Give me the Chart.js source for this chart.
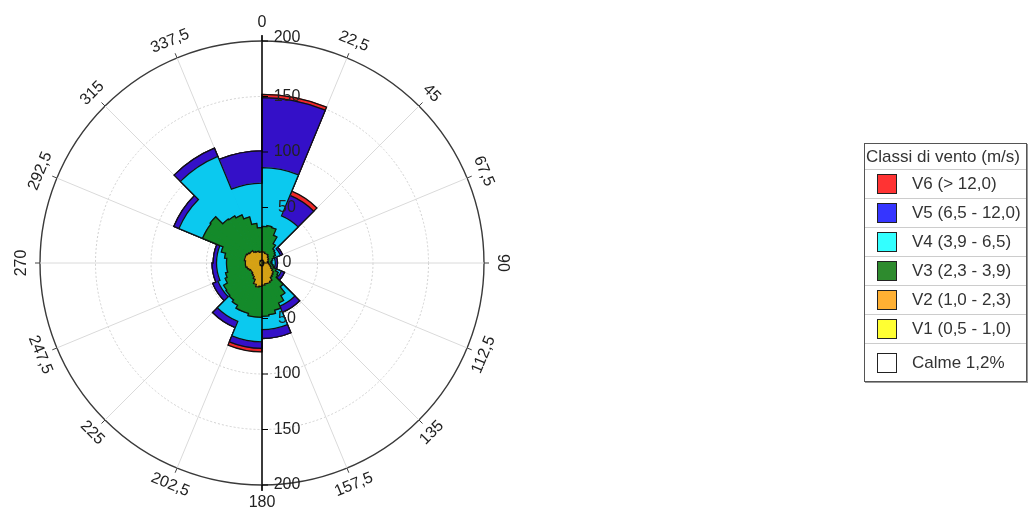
<!DOCTYPE html>
<html lang="it">
<head>
<meta charset="utf-8">
<title>Rosa dei venti</title>
<script src="https://cdn.jsdelivr.net/npm/chart.js@4.4.1/dist/chart.umd.min.js"></script>
<style>
  body { margin: 0; background: #fff; font-family: "Liberation Sans", Arial, sans-serif; }
  #wrap { position: absolute; left: 0; top: 0; width: 1030px; height: 511px; }
  #legend {
    position: absolute; left: 864px; top: 143px; width: 163px;
    box-sizing: border-box; border: 1px solid #555; box-shadow: 1px 1px 0 #999;
    background: #fff; font-size: 17px; color: #333;
  }
  #legend .title { height: 25px; line-height: 25px; padding-left: 1px; border-bottom: 1px solid #ccc; white-space: nowrap; }
  #legend .row { position: relative; height: 28px; border-bottom: 1px solid #ccc; }
  #legend .row:last-child { height: 37px; border-bottom: none; }
  #legend .sw { position: absolute; left: 12px; top: 50%; width: 18px; height: 18px; margin-top: -10px; border: 1px solid #222; }
  #legend .txt { position: absolute; left: 47px; top: 50%; transform: translateY(-50%); white-space: nowrap; }
</style>
</head>
<body>
<div id="wrap"><canvas id="rose"></canvas></div>
<div id="legend"></div>
<script>
// direzioni (gradi) - 16 settori
const directionLabels = ['0', '22,5', '45', '67,5', '90', '112,5', '135', '157,5',
  '180', '202,5', '225', '247,5', '270', '292,5', '315', '337,5'];
const radialTicks = [0, 50, 100, 150, 200];

// frequenze cumulate (bordo esterno di ogni classe)
const v6Edge = [152, 70, 20, 14, 14, 22, 48, 68, 80, 63, 48, 45, 44, 86, 112, 101];
const v5Edge = [149, 66, 20, 14, 14, 22, 48, 68, 77, 63, 48, 45, 44, 86, 112, 101];
const v4Edge = [86, 46, 18, 12, 12, 19, 42, 60, 71, 57, 43, 41, 41, 81, 104, 72];
// le classi basse sono disegnate a passo 7,5 gradi
const v3Edge = [33, 34, 33, 27, 20, 16, 15, 14, 12, 10, 9, 8, 9, 10, 11, 14,
  17, 18, 27, 34, 39, 44, 47, 48, 49, 49, 47, 47, 44, 42, 41, 40,
  36, 34, 32, 32, 32, 34, 38, 58, 58, 59, 50, 49, 47, 43, 36, 32];
const v2Edge = [10, 10, 9, 9, 9, 8, 7, 7, 6, 6, 5, 6, 6, 7, 8, 9,
  11, 13, 14, 15, 18, 19, 19, 20, 21, 22, 20, 16, 14, 13, 12, 12,
  13, 14, 15, 15, 15, 16, 16, 16, 15, 14, 14, 12, 11, 11, 10, 10];
const v1Edge = [2.5, 2, 2, 1.5, 1.5, 1.5, 2, 2.5, 2.5, 2.5, 2, 2, 2, 2, 2.5, 2.5];

const legendLabels = ['V6 (> 12,0)', 'V5 (6,5 - 12,0)', 'V4 (3,9 - 6,5)', 'V3 (2,3 - 3,9)',
  'V2 (1,0 - 2,3)', 'V1 (0,5 - 1,0)', 'Calme 1,2%'];
const legendColors = ['#ff3333', '#3535ff', '#33ffff', '#2e8b2e', '#ffb033', '#ffff33', '#ffffff'];
const fillColors = ['#f02828', '#3410c8', '#0bc9ef', '#148a2a', '#d6a215', '#ffff33'];

const FONT = '16px "Liberation Sans", Arial, sans-serif';

// legenda html
const legendEl = document.getElementById('legend');
legendEl.innerHTML = '<div class="title">Classi di vento (m/s)</div>' +
  legendLabels.map((l, i) =>
    `<div class="row"><span class="sw" style="background:${legendColors[i]}"></span><span class="txt">${l}</span></div>`
  ).join('');

// contorno nero di ogni classe (solo il bordo esterno, non tra i settori)
const roseOutline = {
  id: 'roseOutline',
  afterDatasetDraw(chart, args) {
    const ctx = chart.ctx;
    const arcs = args.meta.data;
    if (!arcs.length) return;
    ctx.save();
    ctx.beginPath();
    arcs.forEach((arc, i) => {
      const p = arc.getProps(['x', 'y', 'startAngle', 'endAngle', 'outerRadius'], true);
      if (i === 0) ctx.moveTo(p.x + p.outerRadius * Math.cos(p.startAngle), p.y + p.outerRadius * Math.sin(p.startAngle));
      ctx.arc(p.x, p.y, p.outerRadius, p.startAngle, p.endAngle);
    });
    ctx.closePath();
    ctx.lineWidth = 1.3;
    ctx.strokeStyle = '#111';
    ctx.stroke();
    ctx.restore();
  }
};

// asse verticale, tacche, etichette ruotate
const roseAxes = {
  id: 'roseAxes',
  afterDatasetsDraw(chart) {
    const s = chart.scales.r;
    const ctx = chart.ctx;
    const cx = s.xCenter, cy = s.yCenter, R = s.drawingArea;
    ctx.save();

    ctx.strokeStyle = '#444';
    ctx.lineWidth = 1;
    directionLabels.forEach((lab, i) => {
      const a = s.getIndexAngle(i) - Math.PI / 2;
      ctx.beginPath();
      ctx.moveTo(cx + R * Math.cos(a), cy + R * Math.sin(a));
      ctx.lineTo(cx + (R + 5) * Math.cos(a), cy + (R + 5) * Math.sin(a));
      ctx.stroke();
    });

    ctx.strokeStyle = '#000';
    ctx.lineWidth = 1.5;
    ctx.beginPath();
    ctx.moveTo(cx, cy - R - 6);
    ctx.lineTo(cx, cy + R + 6);
    ctx.stroke();

    ctx.font = FONT;
    ctx.fillStyle = '#222';
    ctx.textAlign = 'center';
    ctx.textBaseline = 'middle';
    ctx.lineWidth = 1;
    radialTicks.forEach(v => {
      const d = s.getDistanceFromCenterForValue(v);
      [-1, 1].forEach(sign => {
        if (v === 0 && sign === 1) return;
        const y = cy + sign * d;
        ctx.beginPath();
        ctx.moveTo(cx, y);
        ctx.lineTo(cx + 6, y);
        ctx.stroke();
        ctx.fillText(String(v), cx + 25, y - (v === 200 && sign < 0 ? 3 : 0));
      });
    });

    directionLabels.forEach((lab, i) => {
      const rot = s.getIndexAngle(i);
      const deg = rot * 180 / Math.PI;
      const flip = deg > 90.5 && deg < 269.5;
      ctx.save();
      ctx.translate(cx, cy);
      ctx.rotate(rot);
      ctx.translate(0, -(R + 18));
      if (flip) ctx.rotate(Math.PI);
      ctx.fillText(lab, 0, 0);
      ctx.restore();
    });
    ctx.restore();
  }
};

const classEdges = [v1Edge, v2Edge, v3Edge, v4Edge, v5Edge, v6Edge];
const classColors = [fillColors[5], fillColors[4], fillColors[3], fillColors[2], fillColors[1], fillColors[0]];

new Chart(document.getElementById('rose'), {
  type: 'polarArea',
  data: {
    labels: directionLabels,
    // il primo dataset viene disegnato per ultimo (sopra)
    datasets: classEdges.map((d, i) => ({
      label: 'V' + (i + 1),
      data: d,
      backgroundColor: classColors[i],
      borderColor: classColors[i],
      borderWidth: 1
    }))
  },
  options: {
    responsive: true,
    maintainAspectRatio: false,
    animation: false,
    layout: { padding: { left: 40, top: 41, right: 546, bottom: 26 } },
    plugins: { legend: { display: false }, tooltip: { enabled: false } },
    scales: {
      r: {
        min: 0,
        max: 200,
        startAngle: 0,
        ticks: { display: false, stepSize: 50 },
        pointLabels: { display: false },
        angleLines: { display: true, color: '#dadada', lineWidth: 1 },
        grid: {
          circular: true,
          color: c => (c.tick && c.tick.value === 200) ? '#3a3a3a' : '#d0d0d0',
          lineWidth: c => (c.tick && c.tick.value === 200) ? 1.4 : 1
        },
        border: { dash: c => (c.tick && c.tick.value === 200) ? [] : [2, 2] }
      }
    }
  },
  plugins: [roseOutline, roseAxes]
});
</script>
</body>
</html>
